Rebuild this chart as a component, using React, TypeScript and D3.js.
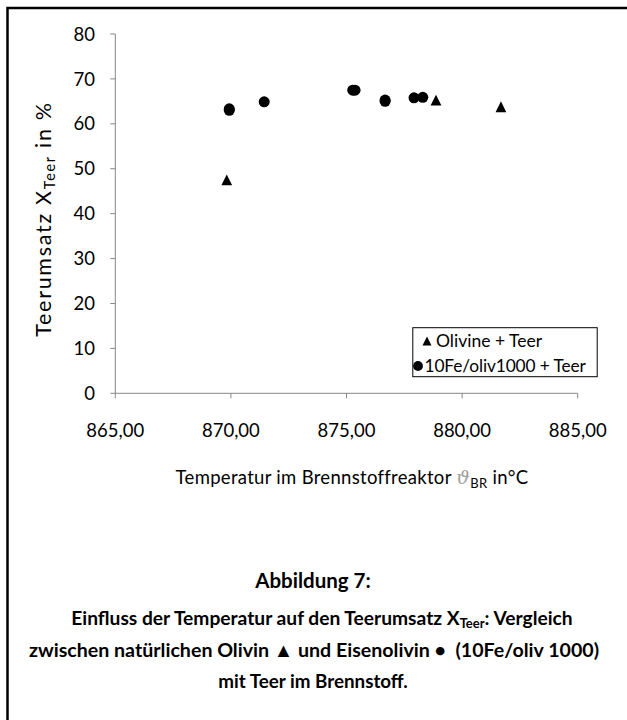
import React from "react";
import * as d3 from "d3";

// Temperatur im Brennstoffreaktor (°C) und Teerumsatz (%)
const olivineTemp = [869.82, 878.87, 881.68];
const olivineConv = [47.5, 65.3, 63.8];
const feOlivTemp = [869.93, 869.93, 871.44, 875.27, 875.37, 876.67, 876.67, 877.92, 878.3];
const feOlivConv = [63.0, 63.35, 64.9, 67.5, 67.5, 65.0, 65.3, 65.8, 65.9];

const xTicks = [865, 870, 875, 880, 885];
const yTicks = [0, 10, 20, 30, 40, 50, 60, 70, 80];
const legendLabels = ["Olivine + Teer", "10Fe/oliv1000 + Teer"];

const W = 627;
const H = 720;
const FONT = "Lato, 'Open Sans', sans-serif";
const AXIS = "#868686";

// triangle centred on its bounding box (like the office marker)
const boxTriangle = {
  draw(ctx: any, size: number) {
    const s = Math.sqrt(size);
    ctx.moveTo(0, -s / 2);
    ctx.lineTo(s / 2, s / 2);
    ctx.lineTo(-s / 2, s / 2);
    ctx.closePath();
  },
};

export default function App() {
  const x = d3.scaleLinear().domain([865, 885]).range([115.3, 577.7]);
  const y = d3.scaleLinear().domain([0, 80]).range([393.3, 34]);

  const tri = d3.symbol(boxTriangle, 116)();
  const triSmall = d3.symbol(boxTriangle, 82)();
  const fmt = (v: number) => v.toFixed(2).replace(".", ",");

  const olivine = olivineTemp.map((t, i) => ({ t, v: olivineConv[i] }));
  const feOliv = feOlivTemp.map((t, i) => ({ t, v: feOlivConv[i] }));

  return (
    <svg
      width={W}
      height={H}
      style={{ position: "absolute", left: 0, top: 0, background: "#fff" }}
      fontFamily={FONT}
    >
      <rect x={0} y={0} width={W} height={H} fill="#fff" />
      {/* Rahmen */}
      <rect x={7.5} y={8} width={W + 20} height={H + 20} fill="none" stroke="#000" strokeWidth={2.5} />

      {/* Achsen */}
      <line x1={x(865)} x2={x(885)} y1={y(0)} y2={y(0)} stroke={AXIS} strokeWidth={1} />
      <line x1={x(865)} x2={x(865)} y1={y(0)} y2={y(80)} stroke={AXIS} strokeWidth={1} />
      {yTicks.map((t) => (
        <g key={`y${t}`}>
          <line x1={x(865) - 5} x2={x(865)} y1={y(t)} y2={y(t)} stroke={AXIS} />
          <text x={95} y={y(t)} dy="0.36em" textAnchor="end" fontSize={18.5} fill="#000">
            {t}
          </text>
        </g>
      ))}
      {xTicks.map((t) => (
        <g key={`x${t}`}>
          <line x1={x(t)} x2={x(t)} y1={y(0)} y2={y(0) + 5} stroke={AXIS} />
          <text x={x(t)} y={430} dy="0.36em" textAnchor="middle" fontSize={18.5} fill="#000">
            {fmt(t)}
          </text>
        </g>
      ))}

      {/* Achsentitel */}
      <text
        transform="translate(43,219) rotate(-90)"
        textAnchor="middle"
        fontSize={21.5}
        letterSpacing={1.7}
        dy="0.36em"
      >
        Teerumsatz X
        <tspan fontSize={14.5} dy={4}>Teer</tspan>
        <tspan dy={-4}> in %</tspan>
      </text>
      <text x={352} y={477} textAnchor="middle" fontSize={18.5} dy="0.36em" letterSpacing={0.3}>
        Temperatur im Brennstoffreaktor{" "}
        <tspan fill="#a0a0a0" fontFamily="'DejaVu Serif', serif" fontStyle="italic" fontSize={19}>ϑ</tspan>
        <tspan fontSize={13} dy={4}>BR</tspan>
        <tspan dy={-4}> in°C</tspan>
      </text>

      {/* Messpunkte */}
      {feOliv.map((d, i) => (
        <circle key={`c${i}`} cx={x(d.t)} cy={y(d.v)} r={5.5} fill="#000" />
      ))}
      {olivine.map((d, i) => (
        <path key={`t${i}`} d={tri || undefined} transform={`translate(${x(d.t)},${y(d.v)})`} fill="#000" />
      ))}

      {/* Legende */}
      <rect x={412.8} y={327.7} width={184.4} height={49} fill="#fff" stroke="#000" strokeWidth={1} />
      <path d={triSmall || undefined} transform="translate(427,341)" fill="#000" />
      <text x={436} y={341} dy="0.36em" fontSize={17.5}>{legendLabels[0]}</text>
      <circle cx={418} cy={366} r={4.9} fill="#000" />
      <text x={424.5} y={366} dy="0.36em" fontSize={17.3} letterSpacing={-0.1}>{legendLabels[1]}</text>

      {/* Bildunterschrift */}
      <g fontWeight="bold" textAnchor="middle">
        <text x={313} y={581} dy="0.36em" fontSize={20.5}>Abbildung 7:</text>
        <text x={322} y={618} dy="0.36em" fontSize={19.2}>
          Einfluss der Temperatur auf den Teerumsatz X
          <tspan fontSize={13} dy={3.5}>Teer</tspan>
          <tspan dy={-3.5}>: Vergleich</tspan>
        </text>
        <text x={314} y={650} dy="0.36em" fontSize={19.6}>
          zwischen natürlichen Olivin ▲ und Eisenolivin • {"\u00a0"}(10Fe/oliv 1000)
        </text>
        <text x={313} y={681} dy="0.36em" fontSize={18.8}>mit Teer im Brennstoff.</text>
      </g>
    </svg>
  );
}
